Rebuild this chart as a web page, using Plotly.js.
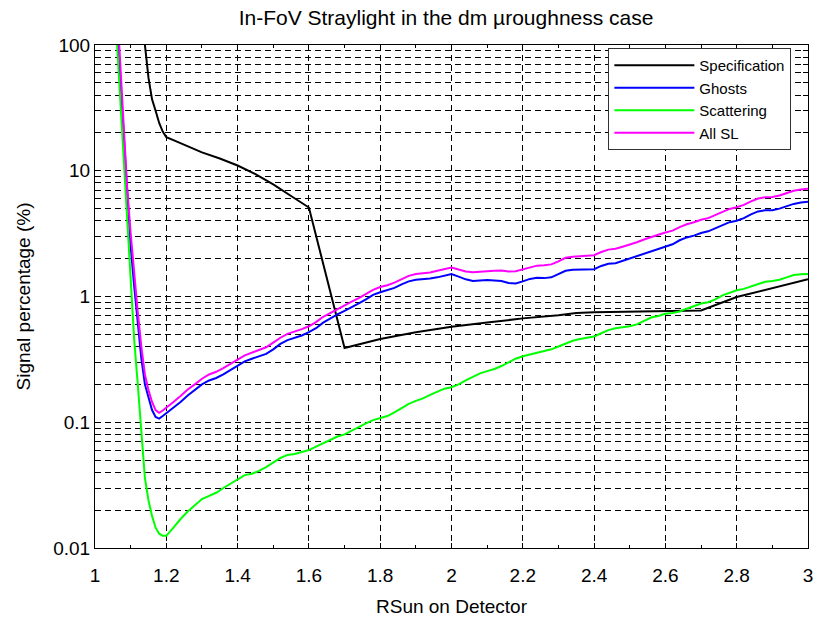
<!DOCTYPE html>
<html>
<head>
<meta charset="utf-8">
<script src="https://cdn.plot.ly/plotly-3.0.1.min.js"></script>
<style>html,body{margin:0;padding:0;background:#fff;}#chart{width:814px;height:621px;}</style>
</head>
<body>
<div id="chart"></div>
<script>
const specX = [1.140,1.145,1.150,1.155,1.16,1.17,1.18,1.19,1.20,1.22,1.24,1.26,1.28,1.30,1.35,1.40,1.45,1.50,1.55,1.58,1.60,1.70,1.80,1.90,2.00,2.10,2.20,2.30,2.35,2.40,2.50,2.60,2.70,2.80,2.90,3.00];
const specY = [100,70,55,45,37,30,24,20.5,18.5,17.5,16.6,15.7,14.8,14,12.5,11,9.4,7.8,6.3,5.6,5.1,0.39,0.46,0.52,0.575,0.62,0.67,0.71,0.74,0.75,0.755,0.765,0.775,0.99,1.17,1.37];

const ghostX = [1.065,1.08,1.09,1.10,1.11,1.12,1.13,1.14,1.15,1.16,1.17,1.18,1.19,1.20,1.22,1.24,1.26,1.28,1.30,1.32,1.34,1.36,1.38,1.40,1.42,1.44,1.46,1.48,1.50,1.52,1.54,1.56,1.58,1.60,1.62,1.64,1.66,1.68,1.70,1.72,1.74,1.76,1.78,1.80,1.82,1.84,1.86,1.88,1.90,1.92,1.94,1.96,1.98,2.00,2.02,2.04,2.06,2.08,2.10,2.12,2.14,2.16,2.18,2.20,2.22,2.24,2.26,2.28,2.30,2.32,2.34,2.36,2.38,2.40,2.42,2.44,2.46,2.48,2.50,2.52,2.54,2.56,2.58,2.60,2.62,2.64,2.66,2.68,2.70,2.72,2.74,2.76,2.78,2.80,2.82,2.84,2.86,2.88,2.90,2.92,2.94,2.96,2.98,3.00];
const ghostY = [100,20,6,2.5,1.2,0.6,0.32,0.2,0.155,0.125,0.11,0.107,0.112,0.118,0.13,0.145,0.163,0.18,0.2,0.215,0.225,0.24,0.26,0.28,0.305,0.32,0.335,0.35,0.38,0.42,0.45,0.47,0.49,0.52,0.56,0.62,0.67,0.72,0.77,0.82,0.88,0.95,1.03,1.08,1.12,1.17,1.25,1.32,1.36,1.37,1.39,1.42,1.47,1.51,1.44,1.37,1.33,1.34,1.35,1.34,1.33,1.28,1.27,1.32,1.38,1.41,1.4,1.42,1.5,1.6,1.63,1.64,1.64,1.65,1.75,1.82,1.84,1.92,2.0,2.1,2.2,2.3,2.4,2.5,2.6,2.8,2.95,3.05,3.2,3.3,3.5,3.7,3.9,4.0,4.2,4.5,4.75,4.85,4.85,5.0,5.25,5.45,5.6,5.67];

const scatX = [1.062,1.07,1.08,1.09,1.10,1.11,1.12,1.13,1.14,1.15,1.16,1.17,1.18,1.19,1.20,1.22,1.24,1.26,1.28,1.30,1.32,1.34,1.36,1.38,1.40,1.42,1.44,1.46,1.48,1.50,1.52,1.54,1.56,1.58,1.60,1.62,1.64,1.66,1.68,1.70,1.72,1.74,1.76,1.78,1.80,1.82,1.84,1.86,1.88,1.90,1.92,1.94,1.96,1.98,2.00,2.02,2.04,2.06,2.08,2.10,2.12,2.14,2.16,2.18,2.20,2.22,2.24,2.26,2.28,2.30,2.32,2.34,2.36,2.38,2.40,2.42,2.44,2.46,2.48,2.50,2.52,2.54,2.56,2.58,2.60,2.62,2.64,2.66,2.68,2.70,2.72,2.74,2.76,2.78,2.80,2.82,2.84,2.86,2.88,2.90,2.92,2.94,2.96,2.98,3.00];
const scatY = [100,40,12,3.5,1.2,0.45,0.2,0.08,0.036,0.024,0.018,0.0145,0.013,0.0125,0.0125,0.0145,0.017,0.0195,0.022,0.0245,0.026,0.0275,0.03,0.0325,0.035,0.038,0.039,0.041,0.044,0.048,0.052,0.055,0.056,0.058,0.06,0.064,0.068,0.073,0.077,0.08,0.086,0.092,0.098,0.104,0.108,0.112,0.12,0.13,0.14,0.148,0.155,0.165,0.175,0.185,0.19,0.2,0.215,0.23,0.245,0.255,0.265,0.28,0.3,0.32,0.335,0.345,0.355,0.37,0.38,0.4,0.425,0.445,0.46,0.47,0.48,0.51,0.54,0.56,0.57,0.58,0.6,0.64,0.68,0.7,0.73,0.74,0.76,0.8,0.84,0.88,0.9,0.95,1.02,1.07,1.12,1.15,1.2,1.27,1.31,1.33,1.36,1.42,1.48,1.5,1.51];

const allX = [1.068,1.08,1.09,1.10,1.11,1.12,1.13,1.14,1.15,1.16,1.17,1.18,1.19,1.20,1.22,1.24,1.26,1.28,1.30,1.32,1.34,1.36,1.38,1.40,1.42,1.44,1.46,1.48,1.50,1.52,1.54,1.56,1.58,1.60,1.62,1.64,1.66,1.68,1.70,1.72,1.74,1.76,1.78,1.80,1.82,1.84,1.86,1.88,1.90,1.92,1.94,1.96,1.98,2.00,2.02,2.04,2.06,2.08,2.10,2.12,2.14,2.16,2.18,2.20,2.22,2.24,2.26,2.28,2.30,2.32,2.34,2.36,2.38,2.40,2.42,2.44,2.46,2.48,2.50,2.52,2.54,2.56,2.58,2.60,2.62,2.64,2.66,2.68,2.70,2.72,2.74,2.76,2.78,2.80,2.82,2.84,2.86,2.88,2.90,2.92,2.94,2.96,2.98,3.00];
const allY = [100,25,7.5,3.2,1.5,0.75,0.4,0.24,0.18,0.145,0.125,0.119,0.124,0.13,0.145,0.162,0.182,0.2,0.222,0.24,0.252,0.27,0.29,0.315,0.34,0.358,0.375,0.395,0.43,0.47,0.505,0.525,0.55,0.58,0.625,0.69,0.74,0.8,0.85,0.91,0.97,1.05,1.13,1.19,1.23,1.29,1.38,1.46,1.51,1.53,1.55,1.6,1.65,1.7,1.64,1.58,1.56,1.58,1.6,1.6,1.61,1.58,1.59,1.65,1.72,1.76,1.77,1.8,1.9,2.03,2.07,2.1,2.11,2.13,2.26,2.36,2.4,2.49,2.58,2.7,2.84,2.98,3.1,3.23,3.34,3.56,3.75,3.89,4.08,4.2,4.45,4.72,4.97,5.12,5.35,5.7,6.02,6.16,6.18,6.36,6.67,6.93,7.1,7.18];

const yTickVals = [0.01,0.02,0.03,0.04,0.05,0.06,0.07,0.08,0.09,0.1,0.2,0.3,0.4,0.5,0.6,0.7,0.8,0.9,1,2,3,4,5,6,7,8,9,10,20,30,40,50,60,70,80,90,100];
const yTickText = ['0.01','','','','','','','','','0.1','','','','','','','','','1','','','','','','','','','10','','','','','','','','','100'];

const seriesNames = ['Specification','Ghosts','Scattering','All SL'];
const seriesColors = ['#000000','#0000ff','#00ff00','#ff00ff'];

const data = [
  {x: specX, y: specY, name: seriesNames[0], line: {color: seriesColors[0], width: 2}},
  {x: ghostX, y: ghostY, name: seriesNames[1], line: {color: seriesColors[1], width: 2}},
  {x: scatX, y: scatY, name: seriesNames[2], line: {color: seriesColors[2], width: 2}},
  {x: allX, y: allY, name: seriesNames[3], line: {color: seriesColors[3], width: 2}}
].map(t => Object.assign({type: 'scatter', mode: 'lines', hoverinfo: 'skip'}, t));

const font = 'Liberation Sans, Arial, sans-serif';
const layout = {
  width: 814, height: 621,
  margin: {l: 95, r: 6, t: 45, b: 73},
  paper_bgcolor: '#fff', plot_bgcolor: '#fff',
  font: {family: font, color: '#000', size: 19},
  title: {text: 'In-FoV Straylight in the dm µroughness case', font: {family: font, size: 21, color: '#000'}, x: 0.548, xanchor: 'center', y: 0.971, yanchor: 'middle'},
  showlegend: true,
  legend: {x: 0.72, y: 0.994, xanchor: 'left', yanchor: 'top', bgcolor: '#fff', bordercolor: '#333', borderwidth: 1, font: {family: font, size: 15, color: '#000'}, itemwidth: 80, tracegroupgap: 0},
  xaxis: {
    range: [1, 3], dtick: 0.2, tick0: 1, showline: true, linecolor: '#000', linewidth: 1, mirror: 'ticks',
    ticks: 'inside', ticklen: 5, tickcolor: '#000',
    showgrid: true, gridcolor: '#000', gridwidth: 1, griddash: '6px,4px',
    zeroline: false,
    minor: {dtick: 0.1, ticks: 'inside', ticklen: 3, tickcolor: '#000', showgrid: false},
    tickfont: {size: 19},
    ticklabelstandoff: 10,
    title: {text: 'RSun on Detector', font: {size: 19}, standoff: 14}
  },
  yaxis: {
    type: 'log', range: [-2, 2], tickmode: 'array', tickvals: yTickVals, ticktext: yTickText,
    showline: true, linecolor: '#000', linewidth: 1, mirror: 'ticks',
    ticks: 'inside', ticklen: 5, tickcolor: '#000',
    showgrid: true, gridcolor: '#000', gridwidth: 1, griddash: '6px,4px',
    zeroline: false,
    tickfont: {size: 19},
    title: {text: 'Signal percentage (%)', font: {size: 19}, standoff: 17}
  }
};

Plotly.newPlot('chart', data, layout, {displayModeBar: false, staticPlot: true});
</script>
</body>
</html>
